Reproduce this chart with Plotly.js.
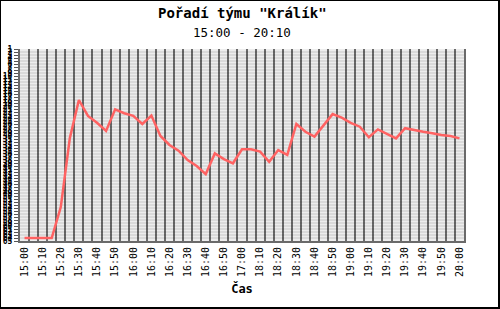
<!DOCTYPE html>
<html>
<head>
<meta charset="utf-8">
<script src="https://cdn.plot.ly/plotly-3.0.1.min.js"></script>
<style>
html,body{margin:0;padding:0;background:#fff;}
#wrap{position:relative;width:500px;height:309px;}
#chart{width:500px;height:309px;}
#frame{position:absolute;left:0;top:0;width:500px;height:309px;box-sizing:border-box;border-top:1px solid #000;border-left:1px solid #000;border-right:2px solid #000;border-bottom:2px solid #000;pointer-events:none;}
</style>
</head>
<body>
<div id="wrap"><div id="chart"></div><div id="frame"></div></div>
<script>
// Time categories (5-minute steps, with a break between 17:00 and 18:10)
const times = [
  "15:00","15:05","15:10","15:15","15:20","15:25","15:30","15:35","15:40","15:45",
  "15:50","15:55","16:00","16:05","16:10","16:15","16:20","16:25","16:30","16:35",
  "16:40","16:45","16:50","16:55","17:00","18:05","18:10","18:15","18:20","18:25",
  "18:30","18:35","18:40","18:45","18:50","18:55","19:00","19:05","19:10","19:15",
  "19:20","19:25","19:30","19:35","19:40","19:45","19:50","19:55","20:00"
];
// Team rank at each time (1 = best, top of chart)
const rank = [
  64, 64, 64, 64, 53.7, 30.7, 18, 23.3, 25.6, 28.3,
  21.1, 22.4, 23.3, 26, 23.2, 30, 33, 34.9, 38, 40,
  42.7, 35.8, 37.7, 39.1, 34.4, 34.4, 35.2, 38.6, 34.7, 36.3,
  26, 28.6, 30.2, 26.3, 22.7, 23.9, 25.6, 26.9, 30.4, 27.8,
  29.3, 30.8, 27.4, 28.1, 28.6, 29.1, 29.7, 30, 30.8
];
// Tick labels: every second time step is labelled
const tickLabels = times.map((t, i) => (i % 2 === 0 ? t : ""));
const rankMin = 1, rankMax = 65;
const titleText = "Pořadí týmu \"Králík\"";
const subtitleText = "15:00 - 20:10";

const trace = {
  x: times,
  y: rank,
  type: "scatter",
  mode: "lines",
  line: {color: "#ff6262", width: 2.5},
  hoverinfo: "skip"
};

const layout = {
  width: 500, height: 309,
  margin: {l: 20, r: 36, t: 49, b: 68},
  paper_bgcolor: "#ffffff",
  plot_bgcolor: "#ededed",
  showlegend: false,
  font: {family: "DejaVu Sans Mono", color: "#000"},
  annotations: [
    {text: "<b>" + titleText + "</b>", xref: "paper", yref: "paper", x: 0.5, y: 1.19,
     xanchor: "center", yanchor: "middle", showarrow: false,
     font: {family: "DejaVu Sans Mono", size: 14, color: "#000"}},
    {text: subtitleText, xref: "paper", yref: "paper", x: 0.5, y: 1.086,
     xanchor: "center", yanchor: "middle", showarrow: false,
     font: {family: "DejaVu Sans Mono", size: 12.5, color: "#000"}}
  ],
  xaxis: {
    type: "category",
    categoryorder: "array",
    categoryarray: times,
    range: [-0.5, times.length - 0.5],
    tickmode: "array",
    tickvals: times,
    ticktext: tickLabels,
    tickson: "boundaries",
    ticks: "",
    tickangle: -90,
    tickfont: {family: "DejaVu Sans Mono", size: 10, color: "#000"},
    showgrid: true,
    gridcolor: "#6a6a6a",
    gridwidth: 2,
    showline: true,
    linecolor: "#6a6a6a",
    linewidth: 2,
    zeroline: false,
    title: {text: "<b>Čas</b>", font: {family: "DejaVu Sans Mono", size: 12, color: "#000"}, standoff: 8}
  },
  yaxis: {
    range: [rankMax, rankMin],
    tickmode: "linear",
    tick0: 1,
    dtick: 1,
    ticks: "outside",
    ticklen: 4,
    tickwidth: 1,
    tickcolor: "#555",
    tickfont: {family: "DejaVu Sans Mono", size: 8, color: "#000", weight: "bold"},
    showgrid: true,
    gridcolor: "rgba(0,0,0,0.08)",
    gridwidth: 1.5,
    showline: true,
    mirror: true,
    linecolor: "#6a6a6a",
    linewidth: 2,
    zeroline: false
  }
};

Plotly.newPlot("chart", [trace], layout, {staticPlot: true, displayModeBar: false});
</script>
</body>
</html>
